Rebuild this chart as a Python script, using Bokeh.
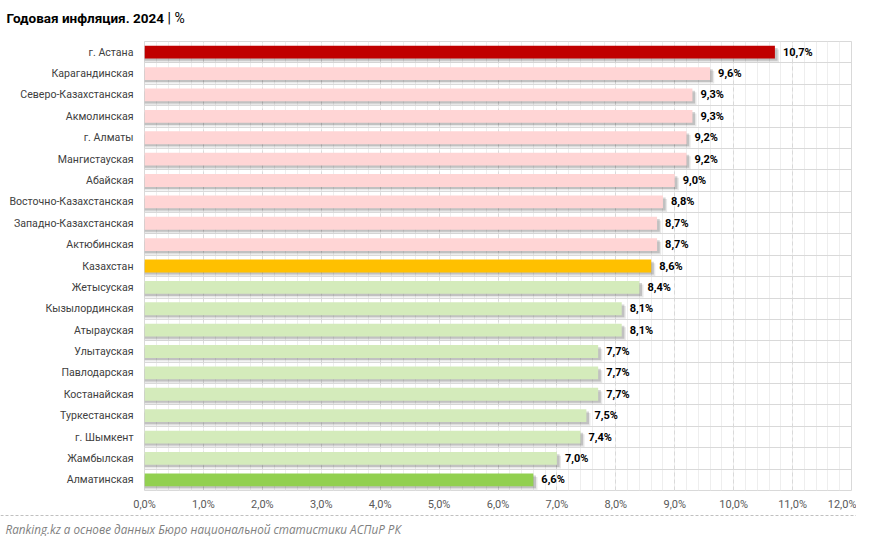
import numpy as np
from bokeh.plotting import figure
from bokeh.models import ColumnDataSource, FactorRange, Range1d, FixedTicker
from bokeh.transform import dodge
from bokeh.layouts import column
from bokeh.embed import file_html
from bokeh.resources import INLINE
from bokeh.core.properties import value

# ---------------- data ----------------
regions = [
    "г. Астана", "Карагандинская", "Северо-Казахстанская", "Акмолинская",
    "г. Алматы", "Мангистауская", "Абайская", "Восточно-Казахстанская",
    "Западно-Казахстанская", "Актюбинская", "Казахстан", "Жетысуская",
    "Кызылординская", "Атырауская", "Улытауская", "Павлодарская",
    "Костанайская", "Туркестанская", "г. Шымкент", "Жамбылская", "Алматинская",
]
inflation = [10.7, 9.6, 9.3, 9.3, 9.2, 9.2, 9.0, 8.8, 8.7, 8.7, 8.6, 8.4,
             8.1, 8.1, 7.7, 7.7, 7.7, 7.5, 7.4, 7.0, 6.6]
x_ticks = [0, 1, 2, 3, 4, 5, 6, 7, 8, 9, 10, 11, 12]
x_tick_labels = ["0,0%", "1,0%", "2,0%", "3,0%", "4,0%", "5,0%", "6,0%",
                 "7,0%", "8,0%", "9,0%", "10,0%", "11,0%", "12,0%"]
title_main = "Годовая инфляция. 2024"
title_unit = "| %"
source_note = "Ranking.kz а основе данных Бюро национальной статистики АСПиР РК"
national = "Казахстан"

# ---------------- styling ----------------
W = 856
HEAD_H, MAIN_H, FOOT_H = 33, 480, 23
nat_val = inflation[regions.index(national)]
vmax, vmin = max(inflation), min(inflation)
colors = []
for r, v in zip(regions, inflation):
    if r == national:
        colors.append("#FFC000")
    elif v == vmax:
        colors.append("#C00000")
    elif v == vmin:
        colors.append("#92D050")
    elif v > nat_val:
        colors.append("#FFD5D5")
    else:
        colors.append("#D4EBBB")
labels = [f"{v:.1f}".replace(".", ",") + "%" for v in inflation]

src = ColumnDataSource(dict(cat=regions, val=inflation, color=colors, label=labels))

# ---------------- header ----------------
h = figure(width=W, height=HEAD_H, x_range=Range1d(0, W), y_range=Range1d(HEAD_H, 0),
           x_axis_type=None, y_axis_type=None, min_border=0, frame_align=False,
           toolbar_location=None, output_backend="svg")
h.grid.visible = False
h.outline_line_color = None
h.text(x=[6], y=[17], text=[title_main], text_font=value("Roboto"),
       text_font_style="bold", text_font_size="13.5px", text_color="#000000",
       text_baseline="middle", text_align="left")
h.text(x=[167], y=[17], text=[title_unit], text_font=value("Roboto"),
       text_font_size="14px", text_color="#000000",
       text_baseline="middle", text_align="left")

# ---------------- main chart ----------------
p = figure(width=W, height=MAIN_H, y_range=FactorRange(factors=regions[::-1]),
           x_range=Range1d(0, 12), output_backend="svg", toolbar_location=None,
           min_border_left=144, min_border_right=5, min_border_top=8,
           min_border_bottom=21, frame_align=False)

# category separators
p.hspan(y=dodge("cat", 0.5, range=p.y_range), line_color="#D9D9D9",
        line_width=1, source=src)

# shadows
p.hbar(y=dodge("cat", -0.17, range=p.y_range), left=0, right=dodge("val", 0.07),
       height=0.6, fill_color="#000000", fill_alpha=0.09, line_color=None, source=src)
p.hbar(y=dodge("cat", -0.1, range=p.y_range), left=0, right=dodge("val", 0.045),
       height=0.6, fill_color="#000000", fill_alpha=0.17, line_color=None, source=src)
# bars
p.hbar(y="cat", left=0, right="val", height=0.6, fill_color="color",
       line_color=None, source=src)
# value labels
p.text(x="val", y="cat", text="label", x_offset=8, text_baseline="middle",
       text_align="left", text_font=value("Roboto"), text_font_style="bold",
       text_font_size="11px", text_color="#000000", source=src)

p.xaxis.ticker = FixedTicker(ticks=x_ticks,
                             minor_ticks=[round(t, 1) for t in np.arange(0, 12.001, 0.2)])
p.xaxis.major_label_overrides = dict(zip(x_ticks, x_tick_labels))
p.xaxis.major_label_standoff = 7
p.xaxis.major_label_text_font = "Roboto"
p.xaxis.major_label_text_font_size = "11px"
p.xaxis.major_label_text_color = "#595959"

p.yaxis.major_label_standoff = 11
p.yaxis.major_label_text_font = "Roboto"
p.yaxis.major_label_text_font_size = "10.6px"
p.yaxis.major_label_text_color = "#404040"

for ax in (p.xaxis, p.yaxis):
    ax.axis_line_color = None
    ax.major_tick_line_color = None
    ax.minor_tick_line_color = None
    ax.major_tick_out = 0
    ax.major_tick_in = 0
    ax.minor_tick_out = 0
    ax.minor_tick_in = 0

p.xgrid.grid_line_color = "#D9D9D9"
p.xgrid.grid_line_dash = "4 3"
p.xgrid.minor_grid_line_color = "#EEEEEE"
p.ygrid.grid_line_color = None
p.outline_line_color = "#D9D9D9"

# ---------------- footer ----------------
f = figure(width=W, height=FOOT_H, x_range=Range1d(0, W), y_range=Range1d(FOOT_H, 0),
           x_axis_type=None, y_axis_type=None, min_border=0, frame_align=False,
           toolbar_location=None, output_backend="svg")
f.grid.visible = False
f.outline_line_color = None
f.segment(x0=[0], x1=[W], y0=[2], y1=[2], line_color="#C0C0C0",
          line_dash="3 2", line_width=1)
f.text(x=[5], y=[15], text=[source_note], text_font=value("Open Sans"),
       text_font_style="italic", text_font_size="11.7px", text_color="#7F7F7F",
       text_baseline="middle", text_align="left")

layout = column(h, p, f, spacing=0)
open("out.html", "w").write(file_html(layout, INLINE))
